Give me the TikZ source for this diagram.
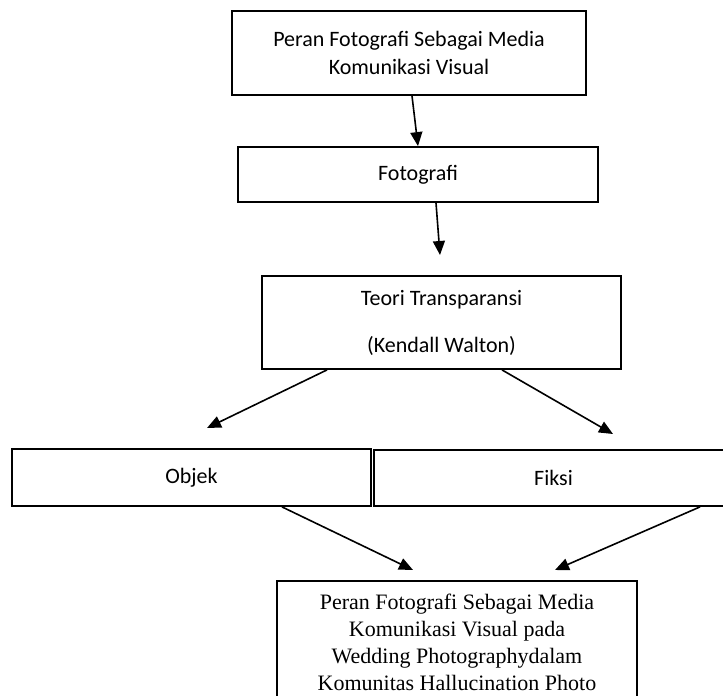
\documentclass[tikz,border=0pt]{standalone}
\usepackage{fontspec}
\setmainfont{Carlito}
\newfontfamily\timesfont{Liberation Serif}
\usetikzlibrary{arrows.meta,calc}

\begin{document}
\begin{tikzpicture}[x=0.5pt,y=-0.5pt,
    kotak/.style={draw,line width=0.9pt,rectangle,inner sep=0pt,align=center,font=\fontsize{11}{14}\selectfont},
    panah/.style={-{Triangle[length=7pt,width=6pt]},line width=0.8pt}]
    \clip (0,0) rectangle (723,696);

    % Top of the chart
    \node[kotak,minimum width=177pt,minimum height=42pt] (peran) at (409,53) {Peran Fotografi Sebagai Media\\Komunikasi Visual};
    \node[kotak,minimum width=180pt,minimum height=27.5pt] (foto) at (418,174.5) {Fotografi};
    \node[kotak,minimum width=179.5pt,minimum height=46.5pt] (teori) at (441.5,322.5) {Teori Transparansi\\[9.5pt](Kendall Walton)};

    % Two branches
    \node[kotak,minimum width=179.5pt,minimum height=28.5pt] (objek) at (191.5,477.5) {Objek};
    \node[kotak,minimum width=179.5pt,minimum height=28pt] (fiksi) at (553.5,478) {Fiksi};

    % Result
    \node[kotak,minimum width=180pt,minimum height=61.5pt,font=\timesfont\fontsize{11}{13.5}\selectfont] (akhir) at (457,642.5)
        {Peran Fotografi Sebagai Media\\Komunikasi Visual pada\\Wedding Photographydalam\\Komunitas Hallucination Photo};

    % Arrow ends
    \coordinate (t1) at (440,255);
    \coordinate (t2) at (207,428);
    \coordinate (t3) at (613,434);
    \coordinate (t4) at (413,570);
    \coordinate (t5) at (555,570);

    \draw[panah] ($(peran.south)+(3,0)$) -- (foto.north);
    \draw[panah] ($(foto.south)+(18,0)$) -- (t1);
    \draw[panah] ($(teori.south)+(-114.5,0)$) -- (t2);
    \draw[panah] ($(teori.south)+(60.5,0)$) -- (t3);
    \draw[panah] ($(objek.south)+(90.5,0)$) -- (t4);
    \draw[panah] ($(fiksi.south)+(146.5,0)$) -- (t5);
\end{tikzpicture}
\end{document}
